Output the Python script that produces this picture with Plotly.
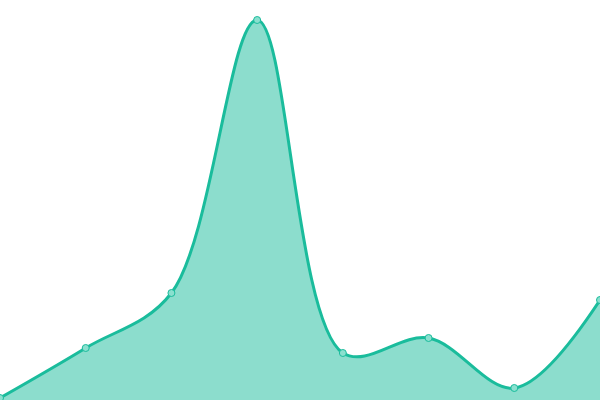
import plotly.graph_objects as go

categories = [0, 1, 2, 3, 4, 5, 6, 7]
values = [2, 52, 107, 380, 47, 62, 12, 100]

fig = go.Figure()
fig.add_trace(go.Scatter(
    x=categories, y=values,
    mode="lines+markers",
    line=dict(color="#1abc9c", width=3, shape="spline", smoothing=1.0),
    fill="tozeroy",
    fillcolor="rgba(26,188,156,0.5)",
    marker=dict(size=7, color="#8ae0cf", line=dict(color="#1abc9c", width=1)),
    cliponaxis=False,
    hoverinfo="skip",
))
fig.update_layout(
    width=600, height=400,
    margin=dict(l=0, r=0, t=0, b=0),
    paper_bgcolor="white", plot_bgcolor="white",
    showlegend=False,
    xaxis=dict(range=[0, 7], visible=False, fixedrange=True),
    yaxis=dict(range=[0, 400], visible=False, fixedrange=True),
)
fig.write_html(
    "out.html",
    config={"displayModeBar": False},
    post_script="document.body.style.margin='0';document.body.style.overflow='hidden';",
)
